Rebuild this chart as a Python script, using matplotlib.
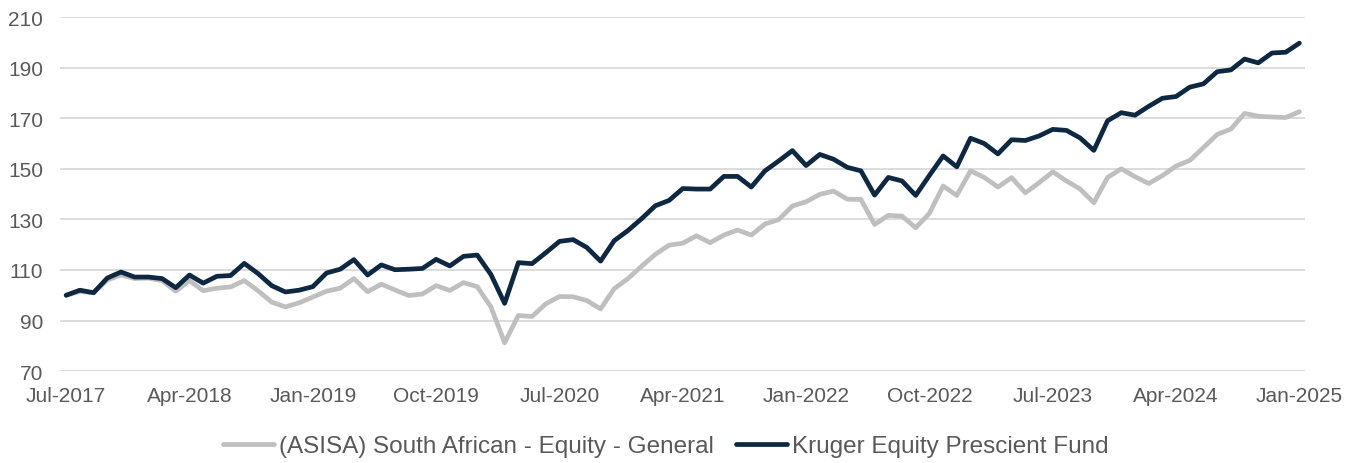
import pandas as pd
import matplotlib.pyplot as plt

plt.rcParams['font.family'] = ['Liberation Sans', 'DejaVu Sans']

# Monthly index values, Jul-2017 to Jan-2025
months = pd.date_range('2017-07-01', '2025-01-01', freq='MS')

kruger = [100, 102, 101, 106.8, 109.2, 107.2, 107.2, 106.6, 103, 108,
          104.8, 107.5, 107.8, 112.6, 108.6, 103.8, 101.3, 102, 103.4, 108.8,
          110.3, 114.1, 108, 112, 110.1, 110.3, 110.6, 114.2, 111.6, 115.4,
          115.9, 108.2, 96.8, 112.9, 112.5, 116.8, 121.3, 122, 118.9, 113.5,
          121.6, 125.6, 130.3, 135.4, 137.5, 142.2, 142, 142, 147, 147,
          142.8, 149.2, 153.1, 157.2, 151.3, 155.7, 153.8, 150.6, 149.2, 139.6,
          146.6, 145.2, 139.5, 147.4, 155.1, 150.8, 162.1, 160, 155.9, 161.5,
          161.2, 163, 165.6, 165.2, 162.2, 157.3, 169, 172.2, 171.2, 174.7,
          177.9, 178.6, 182.3, 183.6, 188.4, 189.1, 193.4, 191.9, 195.8, 196.1,
          199.7]

asisa = [100, 101.5, 101, 106, 108, 106.6, 106.8, 105.8, 101.6, 105.8,
         101.8, 102.8, 103.3, 105.8, 101.8, 97.3, 95.4, 97, 99.3, 101.6,
         102.8, 106.6, 101.4, 104.4, 102.1, 99.9, 100.5, 103.8, 101.9, 105,
         103.4, 95.4, 81.2, 92, 91.6, 96.6, 99.5, 99.4, 97.9, 94.6,
         102.6, 106.6, 111.5, 116.2, 119.8, 120.6, 123.5, 120.8, 123.8, 125.8,
         123.8, 128.2, 129.9, 135.3, 137, 139.9, 141.2, 138, 137.9, 128,
         131.6, 131.3, 126.7, 132.4, 143.2, 139.5, 149.2, 146.6, 142.8, 146.5,
         140.5, 144.5, 148.8, 145.2, 142, 136.6, 146.6, 150, 146.9, 144.2,
         147.3, 151.1, 153.3, 158.4, 163.6, 165.7, 171.9, 170.8, 170.5, 170.3,
         172.6]

tick_idx = list(range(0, len(months), 9))
tick_labels = [months[i].strftime('%b-%Y') for i in tick_idx]

x = list(range(len(months)))

fig = plt.figure(figsize=(13.48, 4.64), dpi=100)
ax = fig.add_axes([0.0445, 0.198, 0.9235, 0.763])

ax.plot(x, asisa, color='#bfbfbf', lw=3.4, solid_capstyle='round',
        solid_joinstyle='round', label='(ASISA) South African - Equity - General')
ax.plot(x, kruger, color='#0e2841', lw=3.4, solid_capstyle='round',
        solid_joinstyle='round', label='Kruger Equity Prescient Fund')

ax.set_ylim(70, 210)
ax.set_yticks(range(70, 211, 20))
ax.set_xlim(-0.45, 90.4)
ax.set_xticks(tick_idx)
ax.set_xticklabels(tick_labels)

ax.grid(axis='y', color='#d9d9d9', lw=1.3)
ax.set_axisbelow(True)
for s in ax.spines.values():
    s.set_visible(False)
ax.tick_params(length=0, labelsize=15, colors='#595959')
ax.tick_params(axis='x', pad=11)
ax.tick_params(axis='y', pad=12)

fig.legend(loc='center', bbox_to_anchor=(0.494, 0.036), ncol=2, frameon=False,
           fontsize=17.5, handlelength=2.1, handletextpad=0.2, columnspacing=0.9,
           labelcolor='#595959')

plt.savefig('out.png', dpi=100)
